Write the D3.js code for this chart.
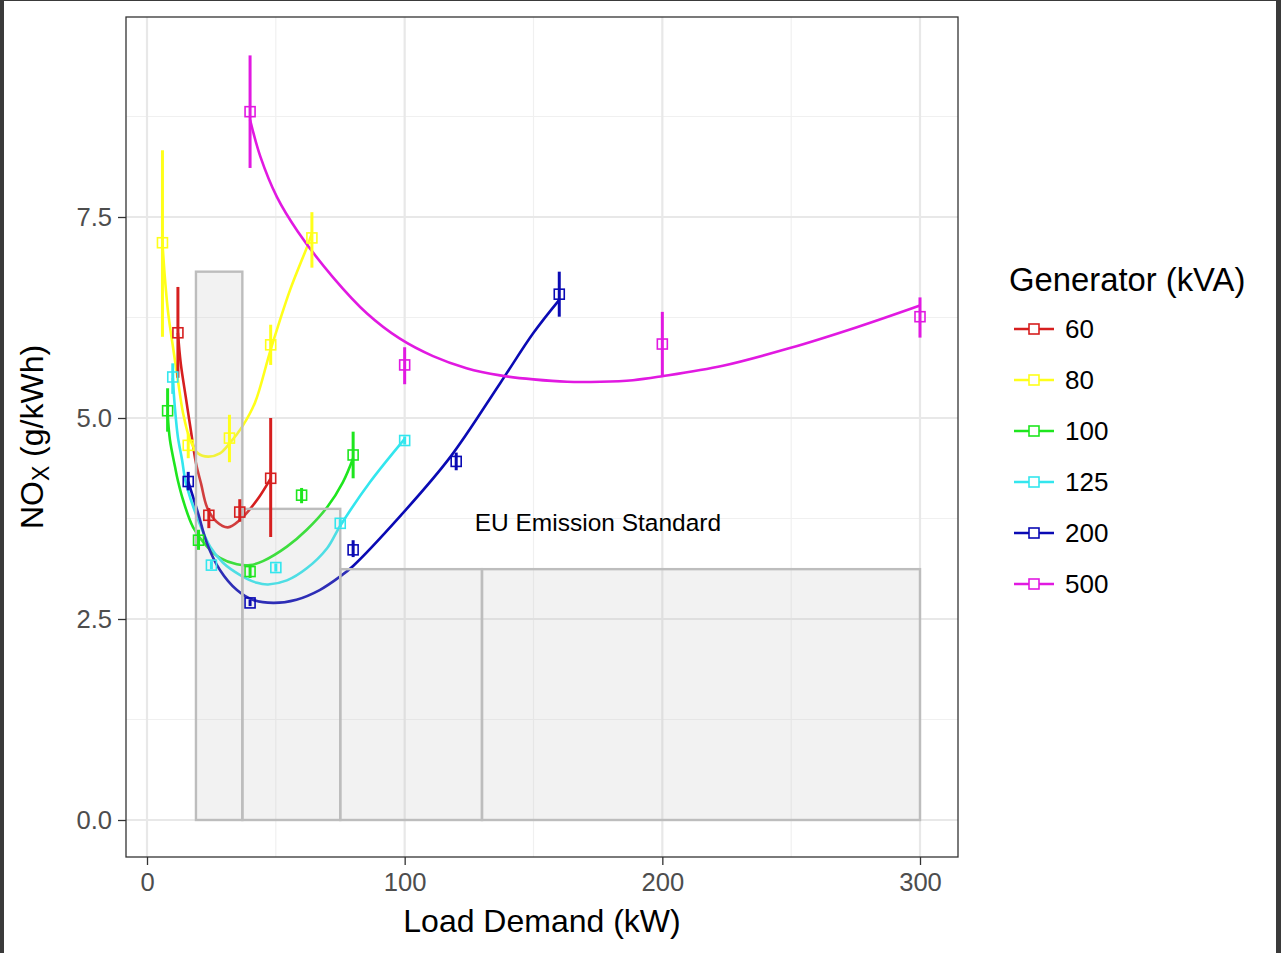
<!DOCTYPE html>
<html>
<head>
<meta charset="utf-8">
<script src="https://cdn.jsdelivr.net/npm/d3@7"></script>
<style>
  body { margin:0; background:#3a3a3a; }
  svg { display:block; font-family: "Liberation Sans", Arial, sans-serif; }
</style>
</head>
<body>
<div id="chart"></div>
<script>
// generators (kVA) and their colours
var generators = ["60", "80", "100", "125", "200", "500"]
var colors = ["#d61f1f", "#ffff1a", "#1ee61e", "#33e6ee", "#0a0ab4", "#e119e1"]

// measured points : [load kW, NOx, upper, lower]
var pts60  = [[12,6.06,6.63,5.50],[24,3.79,3.88,3.63],[36,3.83,3.99,3.71],[48,4.25,5.00,3.52]]
var pts80  = [[6,7.18,8.33,6.01],[16,4.66,4.81,4.50],[32,4.75,5.04,4.45],[48,5.91,6.16,5.66],[64,7.24,7.56,6.87]]
var pts100 = [[8,5.09,5.37,4.83],[20,3.48,3.61,3.36],[40,3.09,3.17,3.01],[60,4.04,4.13,3.94],[80,4.54,4.83,4.25]]
var pts125 = [[10,5.51,5.68,5.30],[25,3.17,3.22,3.12],[50,3.14,3.19,3.09],[75,3.69,3.74,3.64],[100,4.72,4.77,4.67]]
var pts200 = [[16,4.21,4.33,4.10],[40,2.70,2.74,2.66],[80,3.36,3.48,3.27],[120,4.46,4.57,4.35],[160,6.54,6.82,6.26]]
var pts500 = [[40,8.81,9.51,8.11],[100,5.66,5.88,5.42],[200,5.92,6.32,5.51],[300,6.26,6.50,6.00]]

var fit60  = [[12,6.06],[13.1,5.68],[15,5.27],[17,4.85],[19,4.44],[21,4.18],[23.3,3.89],[27,3.71],[31.4,3.64],[36,3.73],[42.7,3.98],[48,4.25]]
var fit80  = [[6,7.18],[7,6.72],[8.2,6.31],[10.1,5.88],[12,5.47],[14,5.06],[16.7,4.73],[19.8,4.56],[23.7,4.52],[28.3,4.56],[32.2,4.69],[36.9,4.89],[41.9,5.19],[48,5.85],[55.5,6.59],[62.5,7.16],[64,7.3]]
var fit100 = [[8,5.05],[8.9,4.73],[10.9,4.39],[12,4.22],[14,3.98],[17.9,3.64],[23.3,3.4],[28.3,3.26],[34.9,3.18],[40,3.17],[45,3.22],[54.3,3.4],[62,3.61],[69.9,3.89],[76,4.2],[80,4.5]]
var fit125 = [[10,5.5],[10.9,5.1],[12,4.76],[13.6,4.48],[14.7,4.25],[15.5,4.14],[19.4,3.77],[24.5,3.4],[29.5,3.2],[36,3.05],[42.7,2.95],[47,2.93],[54.3,2.98],[62,3.13],[69.9,3.38],[75,3.66],[86.5,4.2],[100,4.74]]
var fit200 = [[16,4.21],[19.8,3.82],[23.3,3.44],[28.3,3.11],[34.9,2.86],[41,2.74],[49,2.7],[58,2.74],[67,2.86],[75,3.03],[80,3.16],[98,3.77],[117.6,4.51],[137,5.43],[150,6.06],[160,6.47]]
var fit500 = [[40,8.71],[44,8.25],[50.4,7.75],[58.5,7.32],[72.2,6.75],[85.4,6.3],[98,5.99],[111,5.77],[124,5.62],[137,5.53],[150,5.48],[163,5.45],[176,5.45],[188.6,5.47],[200,5.52],[223.5,5.65],[249.5,5.87],[275.5,6.13],[300,6.4]]

// EU emission standard bands : [from kW, to kW, limit]
var euLimits = [[19,37,6.82],[37,75,3.87],[75,130,3.12],[130,300,3.12]]

var xTicks = [0, 100, 200, 300], xMinor = [50, 150, 250]
var yTicks = [0, 2.5, 5, 7.5], yMinor = [1.25, 3.75, 6.25, 8.75]

var points = [pts60, pts80, pts100, pts125, pts200, pts500]
var fits = [fit60, fit80, fit100, fit125, fit200, fit500]

var W = 1281, H = 953
var P = {left:126, right:958, top:17, bottom:857}

var svg = d3.select("#chart").append("svg").attr("width", W).attr("height", H)
svg.append("rect").attr("x", 4).attr("y", 1).attr("width", W - 9).attr("height", H - 1).attr("fill", "#fff")

var x = d3.scaleLinear().domain([0, 300]).range([147, 920])
var y = d3.scaleLinear().domain([0, 7.5]).range([820, 217])

// grid
var grid = svg.append("g").attr("fill", "none")
grid.selectAll(".xm").data(xMinor).enter().append("line")
  .attr("x1", d => x(d)).attr("x2", d => x(d)).attr("y1", P.top).attr("y2", P.bottom)
  .attr("stroke", "#f0f0f0").attr("stroke-width", 1.2)
grid.selectAll(".ym").data(yMinor).enter().append("line")
  .attr("y1", d => y(d)).attr("y2", d => y(d)).attr("x1", P.left).attr("x2", P.right)
  .attr("stroke", "#f0f0f0").attr("stroke-width", 1.2)
grid.selectAll(".xM").data(xTicks).enter().append("line")
  .attr("x1", d => x(d)).attr("x2", d => x(d)).attr("y1", P.top).attr("y2", P.bottom)
  .attr("stroke", "#e8e8e8").attr("stroke-width", 2.2)
grid.selectAll(".yM").data(yTicks).enter().append("line")
  .attr("y1", d => y(d)).attr("y2", d => y(d)).attr("x1", P.left).attr("x2", P.right)
  .attr("stroke", "#e8e8e8").attr("stroke-width", 2.2)

// fitted curves
var line = d3.line().x(d => x(d[0])).y(d => y(d[1])).curve(d3.curveCatmullRom.alpha(0.5))
svg.append("g").selectAll("path").data(fits).enter().append("path")
  .attr("d", line).attr("fill", "none")
  .attr("stroke", (d, i) => colors[i]).attr("stroke-width", 2.6)

// EU bands on top, semi transparent
svg.append("g").selectAll("rect").data(euLimits).enter().append("rect")
  .attr("x", d => x(d[0])).attr("width", d => x(d[1]) - x(d[0]))
  .attr("y", d => y(d[2])).attr("height", d => y(0) - y(d[2]))
  .attr("fill", "#bebebe").attr("fill-opacity", 0.2)
  .attr("stroke", "#bdbdbd").attr("stroke-width", 2.4)

svg.append("text").attr("x", x(175)).attr("y", y(3.7))
  .attr("text-anchor", "middle").attr("dominant-baseline", "central")
  .attr("font-size", 24.5).attr("fill", "#000").text("EU Emission Standard")

// error bars + open squares
points.forEach((pts, i) => {
  var g = svg.append("g").attr("stroke", colors[i]).attr("fill", "none")
  g.selectAll("line").data(pts).enter().append("line")
    .attr("x1", d => x(d[0])).attr("x2", d => x(d[0]))
    .attr("y1", d => y(d[2])).attr("y2", d => y(d[3]))
    .attr("stroke-width", 3)
  g.selectAll("rect").data(pts).enter().append("rect")
    .attr("x", d => x(d[0]) - 5).attr("y", d => y(d[1]) - 5)
    .attr("width", 10).attr("height", 10).attr("stroke-width", 1.6)
})

// panel border
svg.append("rect").attr("x", P.left).attr("y", P.top)
  .attr("width", P.right - P.left).attr("height", P.bottom - P.top)
  .attr("fill", "none").attr("stroke", "#333").attr("stroke-width", 1.3)

// axes
var xa = svg.append("g").attr("transform", `translate(0,${P.bottom})`)
  .call(d3.axisBottom(x).tickValues(xTicks).tickSize(8).tickPadding(8).tickFormat(d3.format("d")))
var ya = svg.append("g").attr("transform", `translate(${P.left},0)`)
  .call(d3.axisLeft(y).tickValues(yTicks).tickSize(8).tickPadding(6).tickFormat(d3.format(".1f")))
;[xa, ya].forEach(a => {
  a.select(".domain").remove()
  a.selectAll(".tick line").attr("stroke", "#333").attr("stroke-width", 1.3)
  a.selectAll(".tick text").attr("fill", "#4d4d4d").attr("font-size", 25.6)
    .attr("font-family", "Liberation Sans, Arial, sans-serif")
})

svg.append("text").attr("x", (P.left + P.right) / 2).attr("y", 932)
  .attr("text-anchor", "middle").attr("font-size", 32).text("Load Demand (kW)")

var yt = svg.append("text").attr("transform", `translate(43,${(P.top + P.bottom) / 2}) rotate(-90)`)
  .attr("text-anchor", "middle").attr("font-size", 32)
yt.append("tspan").text("NO")
yt.append("tspan").attr("font-size", 23).attr("dy", 6).text("X")
yt.append("tspan").attr("dy", -6).text(" (g/kWh)")

// legend
var lg = svg.append("g")
lg.append("text").attr("x", 1009).attr("y", 291).attr("font-size", 32.8).text("Generator (kVA)")
var item = lg.selectAll(".item").data(generators).enter().append("g")
  .attr("transform", (d, i) => `translate(0,${329 + i * 51})`)
item.append("line").attr("x1", 1014).attr("x2", 1054)
  .attr("stroke", (d, i) => colors[i]).attr("stroke-width", 2.6)
item.append("rect").attr("x", 1029).attr("y", -5).attr("width", 10).attr("height", 10)
  .attr("fill", "#fff").attr("stroke", (d, i) => colors[i]).attr("stroke-width", 1.6)
item.append("text").attr("x", 1065).attr("dominant-baseline", "central")
  .attr("font-size", 26).text(d => d)
</script>
</body>
</html>
